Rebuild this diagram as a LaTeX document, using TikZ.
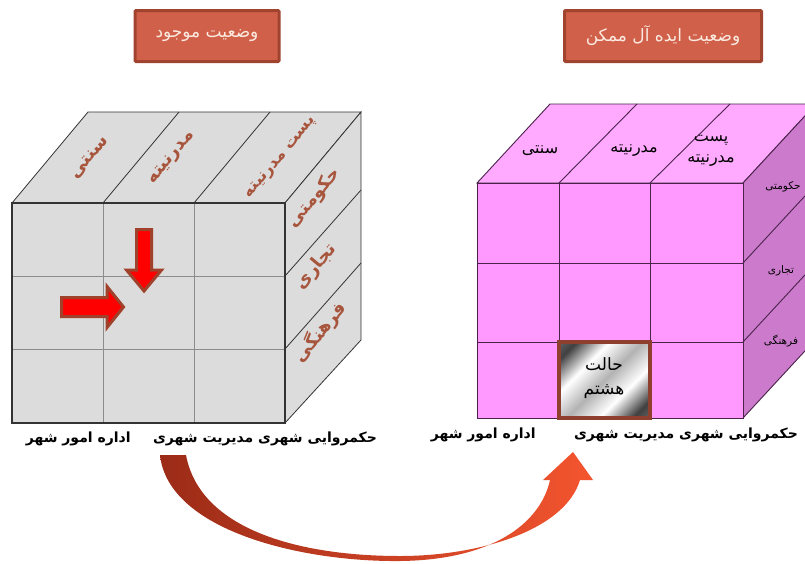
\documentclass[tikz,border=0pt]{standalone}
\usepackage{fontspec}
\usepackage{xcolor}
\usepackage{tikz}
\usetikzlibrary{arrows,positioning}
\TeXXeTstate=1
\newfontfamily\farsi[Script=Arabic]{DejaVu Sans}
\newcommand{\fatext}[1]{\beginR #1\endR}

\definecolor{titlefill}{HTML}{D1604A}
\definecolor{titleedge}{HTML}{A0442F}
\definecolor{titletext}{HTML}{FBEAE0}
\definecolor{cubegray}{HTML}{DCDCDC}
\definecolor{cubeline}{HTML}{333333}
\definecolor{labelbrown}{HTML}{A8553D}
\definecolor{pinktop}{HTML}{FFA9FF}
\definecolor{pinkfront}{HTML}{FF99FF}
\definecolor{pinkside}{HTML}{CC7ACC}
\definecolor{pinkline}{HTML}{4A234A}
\definecolor{arrowedge}{HTML}{A0412B}
\definecolor{curvedark}{HTML}{9B2B17}
\definecolor{curvelight}{HTML}{F4552F}
\definecolor{celledge}{HTML}{8E3F2E}

\pgfdeclarehorizontalshading{metal}{100bp}{color(0bp)=(black!35); color(22bp)=(black!75);
  color(36bp)=(white); color(50bp)=(black!30); color(64bp)=(white); color(78bp)=(black!75);
  color(100bp)=(black!35)}

\begin{document}
\begin{tikzpicture}[x=1pt,y=-1pt,>=stealth',
    title/.style={rectangle,draw=titleedge,line width=3pt,fill=titlefill,text=titletext,
      font=\farsi\fontsize{17}{19}\selectfont,minimum height=51pt,rounded corners=1pt},
    toplabel/.style={text=labelbrown,font=\farsi\bfseries\fontsize{18}{20}\selectfont,rotate=50},
    pinklabel/.style={font=\farsi\fontsize{16}{21}\selectfont,align=center},
    sidelabel/.style={font=\farsi\fontsize{10.5}{12}\selectfont},
    bottomlabel/.style={font=\farsi\bfseries\fontsize{14}{16}\selectfont,inner sep=0pt},
    redarrow/.style={fill=red,draw=arrowedge,line width=3pt},
    gridline/.style={draw=black!45,line width=0.8pt}]
  \useasboundingbox (0,0) rectangle (805,563);

  % titles
  \node[title,minimum width=144pt] (title_now) at (207,36) {\fatext{وضعیت موجود}};
  \node[title,minimum width=197pt] (title_ideal) at (663,36) {\fatext{وضعیت ایده آل ممکن}};

  % present state cube
  \filldraw[fill=cubegray,draw=cubeline,line width=0.8pt] (12,203) -- (88,112) -- (361,112) -- (285,203) -- cycle;
  \filldraw[fill=cubegray,draw=cubeline,line width=0.8pt] (285,203) -- (361,112) -- (361,340) -- (285,423) -- cycle;
  \fill[cubegray] (12,203) rectangle (285,423);
  \draw[gridline] (103,203) -- (103,423) (194,203) -- (194,423) (12,276) -- (285,276) (12,349) -- (285,349);
  \draw[cubeline,line width=0.8pt] (103,203) -- (179,112) (194,203) -- (270,112)
    (285,276) -- (361,190) (285,349) -- (361,263);
  \draw[cubeline,line width=2pt] (12,203) rectangle (285,423);

  \node[toplabel] (trad_now) at (90,158) {\fatext{سنتی}};
  \node[toplabel] (modern_now) at (172,158) {\fatext{مدرنیته}};
  \node[toplabel,font=\farsi\bfseries\fontsize{16}{18}\selectfont] (post_now) at (281,158) {\fatext{پست مدرنیته}};
  \node[toplabel] (gov_now) at (314,198) {\fatext{حکومتی}};
  \node[toplabel] (trade_now) at (316,267) {\fatext{تجاری}};
  \node[toplabel] (culture_now) at (320,332) {\fatext{فرهنگی}};

  \filldraw[redarrow] (136.5,229.5) -- (151.5,229.5) -- (151.5,270) -- (161.5,270) -- (144,291)
    -- (126.5,270) -- (136.5,270) -- cycle;
  \filldraw[redarrow] (61.5,297.5) -- (107,297.5) -- (107,286.5) -- (123.5,307) -- (107,327.5)
    -- (107,316.5) -- (61.5,316.5) -- cycle;

  % ideal state cube
  \begin{scope}[draw=pinkline,line width=0.9pt]
    \clip (0,0) rectangle (805,563);
    \filldraw[fill=pinktop] (477,183) -- (550,104) -- (816,104) -- (743,183) -- cycle;
    \filldraw[fill=pinkside] (743,183) -- (816,104) -- (816,339) -- (743,418) -- cycle;
    \filldraw[fill=pinkfront] (477,183) rectangle (743,418);
    \draw (559,183) -- (559,418) (650,183) -- (650,418) (477,263) -- (743,263) (477,342) -- (743,342);
    \draw (559,183) -- (637,104) (650,183) -- (730,104) (743,263) -- (816,184) (743,342) -- (816,263);
  \end{scope}
  \shade[shading=metal,shading angle=-45] (559,342) rectangle (650,418);
  \draw[celledge,line width=3.5pt] (559,342) rectangle (650,418);

  \node[pinklabel] (trad_ideal) at (540,151) {\fatext{سنتی}};
  \node[pinklabel] (modern_ideal) at (634,151) {\fatext{مدرنیته}};
  \node[pinklabel] (post_ideal) at (711,151) {\fatext{پست}\\\fatext{مدرنیته}};
  \node[sidelabel] (gov_ideal) at (783,187) {\fatext{حکومتی}};
  \node[sidelabel] (trade_ideal) at (781,271) {\fatext{تجاری}};
  \node[sidelabel] (culture_ideal) at (781,341) {\fatext{فرهنگی}};
  \node[pinklabel,font=\farsi\fontsize{17}{24}\selectfont] (eighth) at (604,378) {\fatext{حالت}\\\fatext{هشتم}};

  % bottom labels
  \node[bottomlabel] (levels_now) at (265,439) {\fatext{حکمروایی شهری مدیریت شهری}};
  \node[bottomlabel,left=22pt of levels_now] (admin_now) {\fatext{اداره امور شهر}};
  \node[bottomlabel] (levels_ideal) at (686,435) {\fatext{حکمروایی شهری مدیریت شهری}};
  \node[bottomlabel,left=38pt of levels_ideal] (admin_ideal) {\fatext{اداره امور شهر}};

  % transition arrow
  \shade[left color=curvedark,right color=curvelight]
    (160,455) .. controls (168,530) and (300,562) .. (400,561)
    .. controls (490,560) and (540,525) .. (550,480)
    -- (543,480) -- (573,452) -- (593,480) -- (580,480)
    .. controls (565,530) and (480,556) .. (400,556)
    .. controls (300,556) and (200,530) .. (186,455) -- cycle;
\end{tikzpicture}
\end{document}
